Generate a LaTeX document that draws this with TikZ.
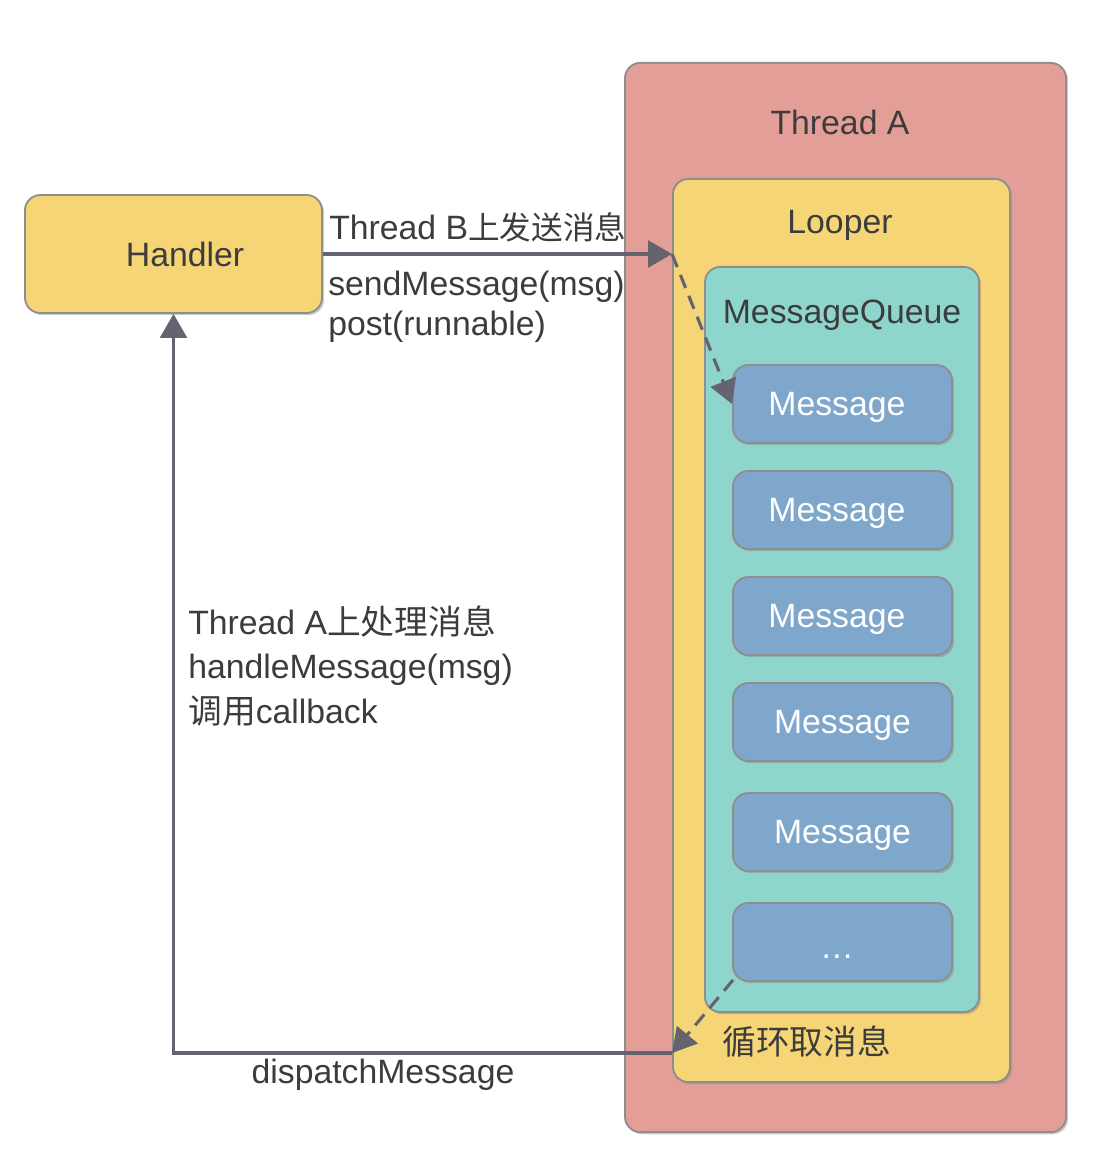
\documentclass[tikz,border=0pt]{standalone}
\usepackage{fontspec}
\setmainfont{Liberation Sans}
\newfontfamily\cjk{Noto Sans CJK SC}
\usetikzlibrary{arrows.meta}
\usetikzlibrary{shadows}
\usetikzlibrary{positioning}

\definecolor{threadred}{HTML}{E39E98}
\definecolor{looperyellow}{HTML}{F5D576}
\definecolor{queuegreen}{HTML}{8ED6CB}
\definecolor{msgblue}{HTML}{7FA6CB}
\definecolor{edgegrey}{HTML}{8E8E8E}
\definecolor{arrowgrey}{HTML}{64636F}
\definecolor{textgrey}{HTML}{3C3C3C}

\begin{document}
\begin{tikzpicture}[x=0.025cm,y=-0.025cm,
  box/.style={draw=edgegrey, line width=1.3pt, rounded corners=11pt,
    drop shadow={shadow xshift=1.5pt, shadow yshift=-1.5pt, opacity=0.4}},
  msgbox/.style={box, fill=msgblue, minimum width=5.475cm, minimum height=1.95cm,
    text=white, font=\fontsize{24}{29}\selectfont, text depth=0pt},
  txt/.style={text=textgrey, font=\fontsize{24}{29}\selectfont, inner sep=0pt},
  arr/.style={draw=arrowgrey, line width=2.2pt, -{Triangle[length=17pt,width=19pt]}},
  dasharr/.style={arr, dash pattern=on 10pt off 6pt}]
\useasboundingbox (0,0) rectangle (1108,1176);

\node[box, fill=threadred, minimum width=11.025cm, minimum height=26.725cm] (threadA) at (845.5,597.5) {};
\node[box, fill=looperyellow, minimum width=8.425cm, minimum height=22.575cm] (looper) at (841.5,630.5) {};
\node[box, fill=queuegreen, minimum width=6.85cm, minimum height=18.625cm] (queue) at (842,639.5) {};

\node[txt] (threadAtxt) at (840,122) {Thread A};
\node[txt] (loopertxt) at (840,225) {Looper};
\node[txt] (queuetxt) at (842,315) {MessageQueue};

\node[msgbox] (msg1) at (842.5,404) {\hspace*{-8pt}Message};
\node[msgbox] (msg2) at (842.5,510) {\hspace*{-8pt}Message};
\node[msgbox] (msg3) at (842.5,616) {\hspace*{-8pt}Message};
\node[msgbox] (msg4) at (842.5,722) {Message};
\node[msgbox] (msg5) at (842.5,832) {Message};
\node[msgbox] (msg6) at (842.5,942) {\hspace*{-8pt}\raisebox{-12pt}{\dots}};

\node[box, fill=looperyellow, minimum width=7.425cm, minimum height=2.95cm] (handler) at (173.5,254) {};
\node[txt] (handlertxt) at (185,254) {Handler};

% send side
\coordinate (sendin) at (looper.west |- handler.east);
\draw[arr] (handler.east) -- (sendin);
\draw[dasharr] (sendin) -- (msg1.west);
\node[txt, anchor=west] (sendtxt) at (329,227) {Thread B{\cjk\fontsize{22.5}{29}\selectfont 上发送消息}};
\node[txt, anchor=west, align=left, font=\fontsize{24}{28.5}\selectfont] (sendcall) at (328,307)
  {sendMessage(msg)\\post(runnable)};

% dispatch side
\coordinate (loopout) at (looper.west |- 0,1053);
\draw[dasharr] (msg6.south west) ++(1,-2) -- (loopout);
\draw[arr] (loopout) -| (handler.south);
\node[txt] (dispatchtxt) at (383,1075) {dispatchMessage};
\node[txt, anchor=west] (looptxt) at (722,1042) {\cjk 循环取消息};
\node[txt, anchor=west, align=left, font=\fontsize{24}{31.6}\selectfont] (handletxt) at (188,666)
  {Thread A{\cjk 上处理消息}\\handleMessage(msg)\\{\cjk 调用}callback};
\end{tikzpicture}
\end{document}
